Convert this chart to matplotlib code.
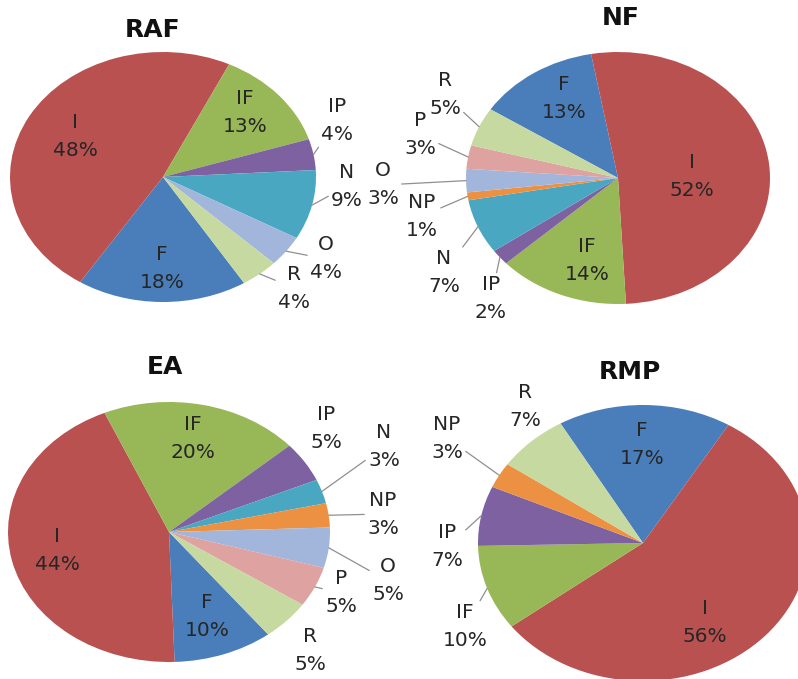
import numpy as np
import matplotlib
matplotlib.use("Agg")
import matplotlib.pyplot as plt

W, H = 798, 679

# ---- data ----
raf_labels = ["F", "I", "IF", "IP", "N", "O", "R"]
raf_values = [18, 48, 13, 4, 9, 4, 4]

nf_labels = ["F", "I", "IF", "IP", "N", "NP", "O", "P", "R"]
nf_values = [13, 52, 14, 2, 7, 1, 3, 3, 5]

ea_labels = ["F", "I", "IF", "IP", "N", "NP", "O", "P", "R"]
ea_values = [10, 44, 20, 5, 3, 3, 5, 5, 5]

rmp_labels = ["F", "I", "IF", "IP", "NP", "R"]
rmp_values = [17, 56, 10, 7, 3, 7]

colors = {
    "F": "#4A7EBB", "I": "#B85150", "IF": "#98B757", "IP": "#7D61A0",
    "N": "#4AA7C2", "NP": "#EC9042", "O": "#A2B6DC", "P": "#DEA2A1",
    "R": "#C6D9A0",
}

# ---- layout (figure pixels, origin top-left) ----
pies = [
    dict(title="RAF", labels=raf_labels, values=raf_values,
         center=(163, 177), radii=(153, 125), start=302, title_xy=(153, 30),
         text={"I": (75, 137), "IF": (245, 113), "IP": (337, 121),
               "N": (347, 186), "O": (326, 259), "R": (294, 288),
               "F": (162, 269)},
         leaders=["IP", "N", "O", "R"]),
    dict(title="NF", labels=nf_labels, values=nf_values,
         center=(618, 178), radii=(152, 126), start=147, title_xy=(621, 18),
         text={"F": (564, 98), "I": (692, 176), "IF": (587, 261),
               "IP": (491, 299), "N": (444, 272), "NP": (422, 216),
               "O": (383, 185), "P": (420, 135), "R": (445, 95)},
         leaders=["IP", "N", "NP", "O", "P", "R"]),
    dict(title="EA", labels=ea_labels, values=ea_values,
         center=(169, 532), radii=(161, 130), start=308, title_xy=(165, 367),
         text={"IF": (193, 438), "I": (57, 550), "F": (207, 616),
               "IP": (326, 428), "N": (384, 447), "NP": (383, 514),
               "O": (388, 581), "P": (341, 593), "R": (310, 651)},
         leaders=["N", "NP", "O", "P"]),
    dict(title="RMP", labels=rmp_labels, values=rmp_values,
         center=(643, 543), radii=(165, 138), start=120, title_xy=(630, 372),
         text={"F": (642, 444), "I": (705, 622), "IF": (465, 627),
               "IP": (447, 547), "NP": (447, 438), "R": (525, 407)},
         leaders=["NP", "IP", "IF"]),
]

plt.rcParams["font.family"] = ["DejaVu Sans"]
fig = plt.figure(figsize=(W / 100, H / 100), dpi=100)
fig.patch.set_facecolor("white")

text_color = "#262626"
label_size = 14.5

for p in pies:
    cx, cy = p["center"]
    rx, ry = p["radii"]
    ax = fig.add_axes([(cx - rx) / W, (H - cy - ry) / H, 2 * rx / W, 2 * ry / H])
    wedges, _ = ax.pie(p["values"], colors=[colors[k] for k in p["labels"]],
                       startangle=p["start"], counterclock=False, radius=1,
                       wedgeprops=dict(linewidth=0))
    ax.set_aspect("auto")
    ax.set_xlim(-1, 1)
    ax.set_ylim(-1, 1)
    ax.axis("off")
    for w in wedges:
        w.set_clip_on(False)
    for lab, val, w in zip(p["labels"], p["values"], wedges):
        tx, ty = p["text"][lab]
        s = f"{lab}\n{val}%"
        mid = np.deg2rad((w.theta1 + w.theta2) / 2)
        edge = (np.cos(mid), np.sin(mid))
        if lab in p["leaders"]:
            ax.annotate(s, xy=edge, xycoords="data",
                        xytext=(tx / W, 1 - ty / H), textcoords="figure fraction",
                        ha="center", va="center", fontsize=label_size,
                        linespacing=1.6, color=text_color, annotation_clip=False,
                        arrowprops=dict(arrowstyle="-", color="#8f8f8f", lw=0.9,
                                        shrinkA=0, shrinkB=0))
        else:
            fig.text(tx / W, 1 - ty / H, s, ha="center", va="center",
                     fontsize=label_size, linespacing=1.6, color=text_color)
    tx, ty = p["title_xy"]
    fig.text(tx / W, 1 - ty / H, p["title"], ha="center", va="center",
             fontsize=18, fontweight="bold", color="#111111")

fig.savefig("out.png", dpi=100, facecolor="white")
